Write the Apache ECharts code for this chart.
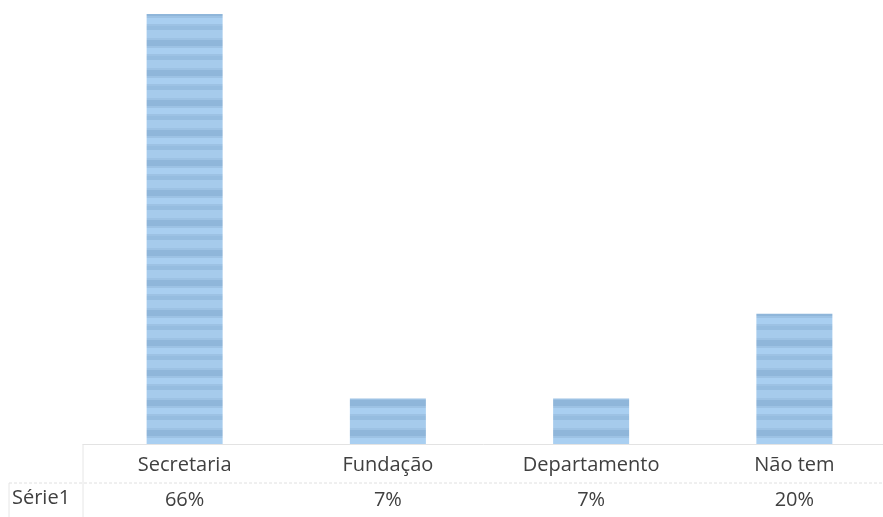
<!DOCTYPE html>
<html>
<head>
<meta charset="utf-8">
<style>
  html, body { margin: 0; padding: 0; background: #ffffff; }
  #chart { width: 883px; height: 517px; }
</style>
<script src="https://cdn.jsdelivr.net/npm/echarts@6/dist/echarts.min.js"></script>
</head>
<body>
<div id="chart"></div>
<script>
// Vínculo institucional — data table row "Série1"
const categories = ['Secretaria', 'Fundação', 'Departamento', 'Não tem'];
const seriesName = 'Série1';
const values = [66, 7, 7, 20];

// Striped fill used for the bars
function makeStripePattern() {
  const c = document.createElement('canvas');
  c.width = 76; c.height = 30;
  const g = c.getContext('2d');
  g.fillStyle = '#9dc2e4';
  g.fillRect(0, 0, 76, 30);
  g.fillStyle = '#a6cbec';
  g.fillRect(0, 0, 76, 8);
  g.fillStyle = '#8fb6da';
  g.fillRect(0, 10, 76, 6);
  g.fillStyle = '#a9cff1';
  g.fillRect(0, 18, 76, 6);
  g.fillStyle = '#96bde0';
  g.fillRect(0, 26, 76, 4);
  return c;
}

const chart = echarts.init(document.getElementById('chart'), null, { renderer: 'canvas' });
const textColor = '#404040';
const font = '"Open Sans", "Noto Sans", sans-serif';

chart.setOption({
  animation: false,
  grid: { left: 83, right: -13, top: 14, bottom: 73, outerBoundsMode: 'none', containLabel: false },
  xAxis: {
    type: 'category',
    data: categories,
    axisLine: { show: true, lineStyle: { color: '#e3e3e3', width: 1 } },
    axisTick: { show: false },
    axisLabel: {
      margin: 4,
      interval: 0,
      formatter: function (name, idx) {
        return '{a|' + name + '}\n{b|' + values[idx] + '%}';
      },
      rich: {
        a: { fontFamily: font, fontSize: 20, color: textColor, lineHeight: 35 },
        b: { fontFamily: font, fontSize: 20, color: textColor, lineHeight: 35 }
      }
    }
  },
  yAxis: {
    type: 'value',
    min: 0,
    max: 66,
    show: false,
    splitLine: { show: false }
  },
  series: [{
    name: seriesName,
    type: 'bar',
    data: values,
    barWidth: 76,
    itemStyle: {
      color: { image: makeStripePattern(), repeat: 'repeat' }
    }
  }],
  graphic: [
    { type: 'line', shape: { x1: 83, y1: 444, x2: 83, y2: 517 }, style: { stroke: '#e6e6e6', lineWidth: 1 } },
    { type: 'line', shape: { x1: 9, y1: 483, x2: 883, y2: 483 }, style: { stroke: '#e0e0e0', lineWidth: 1, lineDash: [3, 2] } },
    { type: 'line', shape: { x1: 9, y1: 483, x2: 9, y2: 517 }, style: { stroke: '#e6e6e6', lineWidth: 1 } },
    { type: 'text', left: 12, top: 488, style: { text: seriesName, font: '20px ' + font, fill: textColor } }
  ]
});
</script>
</body>
</html>
